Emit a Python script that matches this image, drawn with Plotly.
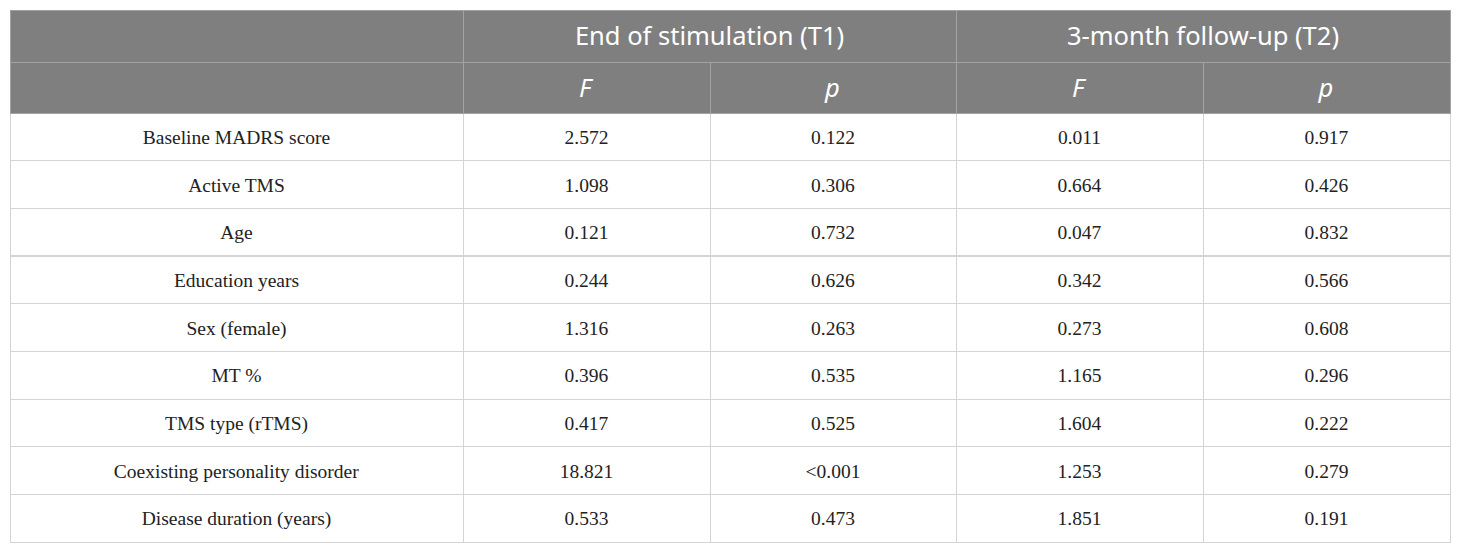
import plotly.graph_objects as go

VARIABLES = [
    "Baseline MADRS score",
    "Active TMS",
    "Age",
    "Education years",
    "Sex (female)",
    "MT %",
    "TMS type (rTMS)",
    "Coexisting personality disorder",
    "Disease duration (years)",
]
T1_F = ["2.572", "1.098", "0.121", "0.244", "1.316", "0.396", "0.417", "18.821", "0.533"]
T1_P = ["0.122", "0.306", "0.732", "0.626", "0.263", "0.535", "0.525", "<0.001", "0.473"]
T2_F = ["0.011", "0.664", "0.047", "0.342", "0.273", "1.165", "1.604", "1.253", "1.851"]
T2_P = ["0.917", "0.426", "0.832", "0.566", "0.608", "0.296", "0.222", "0.279", "0.191"]

GROUP_HEADERS = ["", "End of stimulation (T1)", "3-month follow-up (T2)"]
SUB_HEADERS = ["", "<i>F</i>", "<i>p</i>", "<i>F</i>", "<i>p</i>"]

HEADER_FILL = "#7f7f7f"
HEADER_LINE = "#a3a3a3"
BODY_LINE = "#d4d4d4"
CLEAR = "rgba(0,0,0,0)"
HEADER_FONT = dict(family="Noto Sans, Open Sans, sans-serif", size=25.5, color="white")
BODY_FONT = dict(family="Liberation Serif, serif", size=19.5, color="#222222")

GROUP_WIDTHS = [453, 493, 494]
COL_WIDTHS = [453, 247, 246, 247, 247]

# page has an 8px body margin, so the plot area is placed to land on
# x 10..1450 and y 10..552 of the window
W, H = 1460, 553
M_L, M_R, M_T, M_B = 2, 18, 2, 9
PLOT_TOP = 8 + M_T
PLOT_BOT = 8 + H - M_B
PLOT_H = PLOT_BOT - PLOT_TOP

TABLE_TOP = 10
ROW1_H = 52
ROW2_H = 51
TABLE_BOT = 542
BODY_H = (TABLE_BOT - TABLE_TOP - ROW1_H - ROW2_H) / len(VARIABLES)
# table text is top aligned, these push it down towards the row centres
HEAD_SHIFT = 0
BODY_SHIFT = 6


def frac(y):
    return (PLOT_BOT - y) / PLOT_H


def mk(vals):
    # every cell goes through plotly's markup path so all rows sit alike
    return ["<span>" + v.replace("<", "&lt;") + "</span>" if v else "" for v in vals]


columns = [mk(VARIABLES), mk(T1_F), mk(T1_P), mk(T2_F), mk(T2_P)]
first_row = [col[0] for col in columns]
other_rows = [col[1:] for col in columns]
blank_body = [[""] * len(VARIABLES) for _ in COL_WIDTHS]
empty3 = [[], [], []]
empty5 = [[], [], [], [], []]

fig = go.Figure()

# grid: merged group header row
fig.add_trace(go.Table(
    domain=dict(x=[0, 1], y=[frac(TABLE_TOP + ROW1_H), 1]),
    columnwidth=GROUP_WIDTHS,
    header=dict(values=["", "", ""], fill_color=HEADER_FILL,
                line_color=HEADER_LINE, height=ROW1_H),
    cells=dict(values=empty3, height=0),
))

# grid: sub header + body
fig.add_trace(go.Table(
    domain=dict(x=[0, 1], y=[frac(TABLE_BOT + 1), frac(TABLE_TOP + ROW1_H)]),
    columnwidth=COL_WIDTHS,
    header=dict(values=[""] * 5, fill_color=HEADER_FILL,
                line_color=HEADER_LINE, height=ROW2_H),
    cells=dict(values=blank_body, fill_color="white",
               line_color=BODY_LINE, height=BODY_H),
))

# text: group headers
fig.add_trace(go.Table(
    domain=dict(x=[0, 1], y=[frac(TABLE_TOP + ROW1_H + HEAD_SHIFT),
                             frac(TABLE_TOP + HEAD_SHIFT)]),
    columnwidth=GROUP_WIDTHS,
    header=dict(values=mk(GROUP_HEADERS), fill_color=CLEAR, line_color=CLEAR,
                font=HEADER_FONT, align="center", height=ROW1_H),
    cells=dict(values=empty3, height=0),
))

# text: sub headers
sub_top = TABLE_TOP + ROW1_H + HEAD_SHIFT
fig.add_trace(go.Table(
    domain=dict(x=[0, 1], y=[frac(sub_top + ROW2_H), frac(sub_top)]),
    columnwidth=COL_WIDTHS,
    header=dict(values=SUB_HEADERS, fill_color=CLEAR, line_color=CLEAR,
                font=HEADER_FONT, align="center", height=ROW2_H),
    cells=dict(values=empty5, height=0),
))

# text: body rows
body_top = TABLE_TOP + ROW1_H + ROW2_H + BODY_SHIFT
fig.add_trace(go.Table(
    domain=dict(x=[0, 1], y=[0, frac(body_top)]),
    columnwidth=COL_WIDTHS,
    header=dict(values=first_row, fill_color=CLEAR, line_color=CLEAR,
                font=BODY_FONT, align="center", height=BODY_H),
    cells=dict(values=other_rows, fill_color=CLEAR, line_color=CLEAR,
               font=BODY_FONT, align="center", height=BODY_H),
))

fig.update_layout(
    width=W,
    height=H,
    margin=dict(l=M_L, r=M_R, t=M_T, b=M_B),
    paper_bgcolor="white",
    plot_bgcolor="white",
)

fig.write_html("out.html")
